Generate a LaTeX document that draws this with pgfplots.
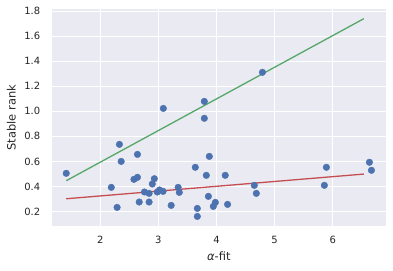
\documentclass[border=0pt]{standalone}
\usepackage{pgfplots}
\pgfplotsset{compat=1.18}
\usepackage{fontspec}
\setmainfont{DejaVu Sans}
\definecolor{sbbg}{HTML}{EAEAF2}
\definecolor{sbblue}{HTML}{4C72B0}
\definecolor{sbred}{HTML}{C44E52}
\definecolor{sbgreen}{HTML}{55A868}
\definecolor{sbtext}{HTML}{262626}
\begin{document}
\begin{tikzpicture}
\path[use as bounding box] (-52bp,-45.3bp) rectangle (341bp,225.7bp);
\begin{axis}[
  at={(0,0)}, anchor=south west,
  scale only axis, width=333.7bp, height=216.4bp,
  xmin=1.17, xmax=6.91, ymin=0.087, ymax=1.814,
  xtick={2,3,4,5,6}, ytick={0.2,0.4,0.6,0.8,1.0,1.2,1.4,1.6,1.8},
  yticklabel style={/pgf/number format/fixed,/pgf/number format/precision=1,/pgf/number format/fixed zerofill},
  /pgf/number format/assume math mode=true,
  axis background/.style={fill=sbbg},
  axis line style={draw=none},
  major tick length=0pt,
  grid=major,
  major grid style={white, line width=1bp},
  tick label style={font=\fontsize{10}{12}\selectfont, text=sbtext, inner sep=0pt},
  xticklabel style={anchor=center, yshift=-14.3bp},
  yticklabel style={anchor=east, xshift=-11.6bp},
  label style={font=\fontsize{11.5}{13}\selectfont, text=sbtext},
  xlabel={{\itshape α}-fit},
  ylabel={Stable rank},
  xlabel style={at={(axis description cs:0.5,-0.1433)}, anchor=center},
  ylabel style={at={(axis description cs:-0.1217,0.5)}, anchor=center, rotate=0},
  clip=false,
]
\addplot[only marks, mark=*, mark size=3.3bp, mark options={fill=sbblue, draw=sbblue}] coordinates {
(1.415,0.505) (2.33,0.736) (2.36,0.600) (2.19,0.393) (2.29,0.233)
(2.64,0.656) (2.58,0.457) (2.64,0.473) (2.67,0.276) (2.76,0.356)
(2.84,0.345) (2.84,0.276) (2.93,0.462) (2.895,0.420) (2.98,0.356)
(3.02,0.372) (3.08,0.361) (3.22,0.249) (3.34,0.393) (3.36,0.353)
(3.635,0.553) (3.67,0.225) (3.67,0.161) (3.876,0.640) (3.824,0.489)
(3.86,0.321) (3.085,1.023) (3.79,1.079) (3.79,0.944) (4.79,1.311)
(3.945,0.241) (3.98,0.273) (4.15,0.489) (4.19,0.257) (4.65,0.409)
(4.685,0.345) (5.89,0.553) (5.855,0.409) (6.63,0.593) (6.665,0.529)
};
\addplot[sbred, line width=1.3bp, no marks] coordinates {(1.415,0.302) (6.533,0.499)};
\addplot[sbgreen, line width=1.3bp, no marks] coordinates {(1.415,0.446) (6.533,1.739)};
\end{axis}
\end{tikzpicture}
\end{document}
